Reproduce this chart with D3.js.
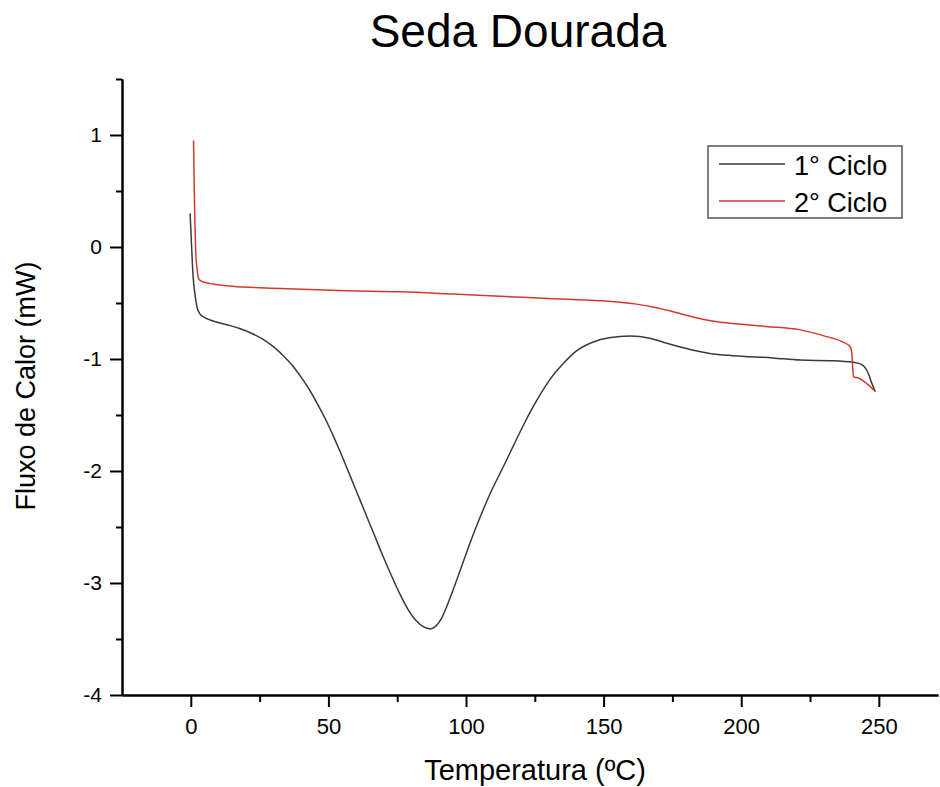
<!DOCTYPE html>
<html lang="pt">
<head>
  <meta charset="utf-8" />
  <title>Seda Dourada</title>
  <script src="https://d3js.org/d3.v7.min.js"></script>
  <style>
    body {
      margin: 0;
      padding: 0;
      background: #ffffff;
      font-family: "Liberation Sans", Arial, sans-serif;
    }
    .axis path,
    .axis line {
      fill: none;
      stroke: #000;
      stroke-width: 2px;
    }
    .axis text {
      font-family: "Liberation Sans", Arial, sans-serif;
      fill: #000;
    }
    .curve {
      fill: none;
      stroke-width: 1.5px;
      stroke-linejoin: round;
    }
  </style>
</head>
<body>
<div id="chart"></div>

<script>
// ---- data ----
const cicloTemp1 = [-0.25, 0.3, 0.8, 1.5, 2.3, 3.4, 5, 8.1, 14, 18, 22, 26, 30, 34, 37, 40, 43, 46, 49, 52, 55, 58, 61, 64, 67, 70, 73, 76, 79, 82, 84.5, 87, 89, 91, 93, 95.5, 98, 101.5, 105, 109, 113.6, 117.5, 121.5, 125.7, 130.6, 135, 140, 146, 152, 159.7, 166.8, 173, 179, 188.6, 197, 211.6, 221.4, 233.5, 240.8, 243.8, 246.2, 247.5, 248.7];
const cicloFluxo1 = [0.30, 0.0, -0.25, -0.42, -0.54, -0.60, -0.63, -0.66, -0.70, -0.73, -0.77, -0.82, -0.89, -0.98, -1.06, -1.16, -1.27, -1.40, -1.54, -1.70, -1.87, -2.05, -2.23, -2.41, -2.59, -2.77, -2.94, -3.10, -3.24, -3.34, -3.39, -3.41, -3.385, -3.32, -3.21, -3.05, -2.88, -2.64, -2.42, -2.19, -1.96, -1.76, -1.56, -1.37, -1.18, -1.05, -0.93, -0.85, -0.81, -0.795, -0.815, -0.86, -0.90, -0.95, -0.97, -0.99, -1.01, -1.015, -1.03, -1.05, -1.13, -1.22, -1.29];

const cicloTemp2 = [1.0, 1.2, 1.5, 1.8, 2.3, 2.8, 3.5, 5, 8, 15, 32.4, 56.7, 76, 95, 112.4, 130, 148.8, 155, 162, 168, 174, 180, 186, 192, 200, 209, 221.4, 231, 237.1, 239.6, 240.2, 240.8, 242.6, 245.6, 248.7];
const cicloFluxo2 = [0.95, 0.6, 0.2, -0.05, -0.2, -0.28, -0.30, -0.315, -0.33, -0.35, -0.37, -0.39, -0.40, -0.42, -0.44, -0.46, -0.48, -0.49, -0.51, -0.535, -0.57, -0.61, -0.645, -0.67, -0.69, -0.71, -0.74, -0.80, -0.85, -0.89, -0.95, -1.16, -1.17, -1.22, -1.29];

const seriesNames = ["1° Ciclo", "2° Ciclo"];
const seriesColors = ["#3a3a3a", "#d23b2b"];

const xTicks = [0, 50, 100, 150, 200, 250];
const xMinorTicks = [25, 75, 125, 175, 225];
const yTicks = [-4, -3, -2, -1, 0, 1];
const yMinorTicks = [-3.5, -2.5, -1.5, -0.5, 0.5, 1.5];

// ---- setup ----
const width = 940, height = 787;

const svg = d3.select("#chart")
  .append("svg")
  .attr("width", width)
  .attr("height", height);

const x = d3.scaleLinear().domain([-25, 271.5]).range([122, 938]);
const y = d3.scaleLinear().domain([-4, 1.5]).range([695, 79]);

// minor ticks first, then major axes on top
svg.append("g")
  .attr("class", "axis")
  .attr("transform", `translate(0,${y(-4)})`)
  .call(d3.axisBottom(x).tickValues(xMinorTicks).tickSize(7).tickSizeOuter(0).tickFormat(""));

svg.append("g")
  .attr("class", "axis")
  .attr("transform", `translate(${x(-25)},0)`)
  .call(d3.axisLeft(y).tickValues(yMinorTicks).tickSize(6).tickSizeOuter(0).tickFormat(""));

const xAxis = svg.append("g")
  .attr("class", "axis")
  .attr("transform", `translate(0,${y(-4)})`)
  .call(d3.axisBottom(x).tickValues(xTicks).tickSize(12).tickSizeOuter(0).tickPadding(11));
xAxis.selectAll("text").style("font-size", "22px");

const yAxis = svg.append("g")
  .attr("class", "axis")
  .attr("transform", `translate(${x(-25)},0)`)
  .call(d3.axisLeft(y).tickValues(yTicks).tickSize(12).tickSizeOuter(0).tickPadding(8)
    .tickFormat(d => d < 0 ? "-" + Math.abs(d) : d));
yAxis.selectAll("text").style("font-size", "21px");

// ---- curves ----
const line = d3.line()
  .x(d => x(d[0]))
  .y(d => y(d[1]))
  .curve(d3.curveMonotoneX);

const series = [
  d3.zip(cicloTemp1, cicloFluxo1),
  d3.zip(cicloTemp2, cicloFluxo2)
];

series.forEach((pts, i) => {
  svg.append("path")
    .datum(pts)
    .attr("class", "curve")
    .attr("stroke", seriesColors[i])
    .attr("d", line);
});

// ---- titles ----
svg.append("text")
  .attr("x", 518)
  .attr("y", 47)
  .attr("text-anchor", "middle")
  .style("font-size", "46px")
  .text("Seda Dourada");

svg.append("text")
  .attr("x", 535)
  .attr("y", 780)
  .attr("text-anchor", "middle")
  .style("font-size", "29px")
  .text("Temperatura (ºC)");

svg.append("text")
  .attr("transform", "translate(35,386) rotate(-90)")
  .attr("text-anchor", "middle")
  .style("font-size", "27px")
  .text("Fluxo de Calor (mW)");

// ---- legend ----
const legend = svg.append("g");
legend.append("rect")
  .attr("x", 708).attr("y", 146)
  .attr("width", 194).attr("height", 72)
  .attr("fill", "#fff")
  .attr("stroke", "#555")
  .attr("stroke-width", 1.5);

seriesNames.forEach((name, i) => {
  const ly = 164 + i * 37;
  legend.append("line")
    .attr("x1", 719).attr("x2", 785)
    .attr("y1", ly).attr("y2", ly)
    .attr("stroke", seriesColors[i])
    .attr("stroke-width", 1.5);
  legend.append("text")
    .attr("x", 794)
    .attr("y", ly + 11)
    .style("font-size", "27px")
    .text(name);
});
</script>
</body>
</html>
